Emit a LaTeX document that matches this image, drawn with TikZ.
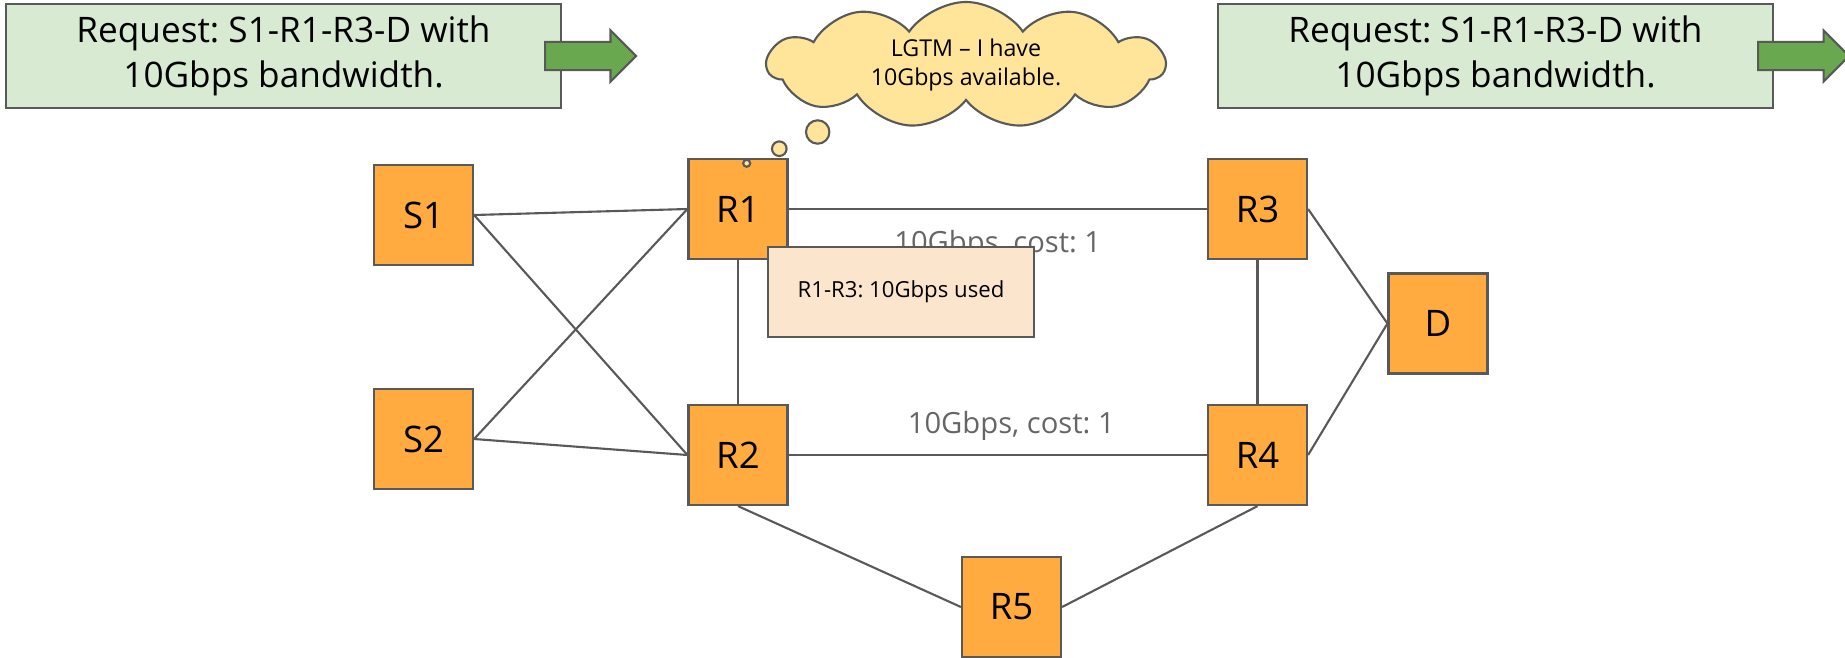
\documentclass[tikz,border=0pt]{standalone}
\usepackage{fontspec}
\setmainfont{Open Sans}
\usetikzlibrary{
    shapes.symbols,
    shapes.arrows
}
\definecolor{lineGray}{RGB}{89, 89, 89}
\definecolor{labelGray}{RGB}{102, 102, 102}
\definecolor{nodeOrange}{RGB}{255, 171, 64}
\definecolor{fillGreen}{RGB}{217, 234, 211}
\definecolor{arrowGreen}{RGB}{106, 168, 79}
\definecolor{cloudYellow}{RGB}{255, 229, 153}
\definecolor{notePeach}{RGB}{252, 229, 205}
\frenchspacing

\begin{document}
\begin{tikzpicture}[x=0.01cm, y=-0.01cm,
    router/.style={draw=lineGray, line width=0.6pt, fill=nodeOrange, minimum width=0.99cm, minimum height=1cm, inner sep=0pt, font=\fontsize{10.4}{12}\selectfont},
    request/.style={draw=lineGray, line width=0.6pt, fill=fillGreen, minimum width=5.55cm, minimum height=1cm, align=center, font=\fontsize{10}{12.8}\selectfont},
    fwd/.style={single arrow, draw=lineGray, line width=0.6pt, fill=arrowGreen, minimum height=0.91cm, single arrow head extend=0.115cm, inner xsep=0pt, inner ysep=0.13cm, anchor=tail},
    link/.style={draw=lineGray, line width=0.6pt},
    cost/.style={text=labelGray, inner sep=0pt, font=\fontsize{8.3}{10}\selectfont},
    note/.style={draw=lineGray, line width=0.6pt, fill=notePeach, minimum width=2.66cm, minimum height=0.9cm, font=\fontsize{6.3}{8}\selectfont},
    bubble/.style={draw=lineGray, line width=0.6pt, fill=cloudYellow}]
    \useasboundingbox (0,0) rectangle (1845,657);

    % リクエスト
    \node[request] (reqL) at (283.5,56) {Request: S1-R1-R3-D with\\10Gbps bandwidth.};
    \node[fwd] (fwdL) at (544,56) {};
    \node[request] (reqR) at (1495.5,56) {Request: S1-R1-R3-D with\\10Gbps bandwidth.};
    \node[fwd] (fwdR) at (1757,56) {};

    % ノード
    \node[router] (s1) at (423.5,215) {S1};
    \node[router] (s2) at (423.5,439) {S2};
    \node[router] (r1) at (738,209) {R1};
    \node[router] (r2) at (738,455) {R2};
    \node[router] (r3) at (1257.5,209) {R3};
    \node[router] (r4) at (1257.5,455) {R4};
    \node[router] (d) at (1438,323.5) {D};
    \node[router] (r5) at (1011.5,607) {R5};

    % リンク
    \draw[link] (s1.east) -- (r1.west);
    \draw[link] (s1.east) -- (r2.west);
    \draw[link] (s2.east) -- (r1.west);
    \draw[link] (s2.east) -- (r2.west);
    \draw[link] (r1.south) -- (r2.north);
    \draw[link] (r3.south) -- (r4.north);
    \draw[link] (r3.east) -- (d.west);
    \draw[link] (r4.east) -- (d.west);
    \draw[link] (r2.south) -- (r5.west);
    \draw[link] (r4.south) -- (r5.east);
    \draw[link] (r1.east) -- node[cost, yshift=-0.36cm] (cost13) {10Gbps, cost: 1} (r3.west);
    \draw[link] (r2.east) -- node[cost, xshift=0.135cm, yshift=0.29cm] (cost24) {10Gbps, cost: 1} (r4.west);

    % 使用中の帯域
    \node[note] (used) at (901,292) {R1-R3: 10Gbps used};

    % 吹き出し
    \node[cloud, draw=lineGray, line width=0.6pt, fill=cloudYellow, cloud puffs=11, cloud puff arc=110, aspect=3.1, minimum width=3.97cm, minimum height=1.26cm, inner sep=0pt, align=center, font=\fontsize{6.6}{8}\selectfont] (lgtm) at (966,65) {LGTM -- I have\\10Gbps available.};
    \draw[bubble] (817.7,132) circle (0.117cm);
    \draw[bubble] (779.3,148.7) circle (0.073cm);
    \draw[bubble] (746.7,163.3) circle (0.035cm);
\end{tikzpicture}
\end{document}
